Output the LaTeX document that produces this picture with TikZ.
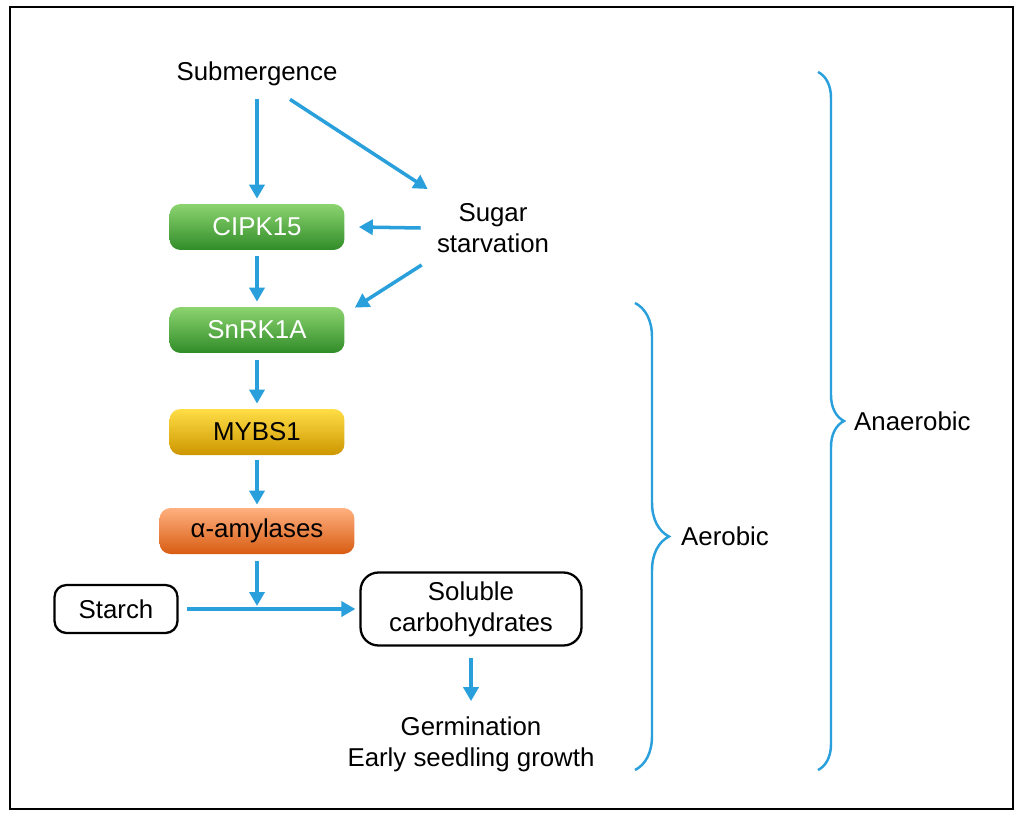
\documentclass[tikz,border=0pt]{standalone}
\usepackage{fontspec}
\setmainfont{Liberation Sans}
\usetikzlibrary{arrows.meta,calc,decorations.pathreplacing}
\definecolor{arrblue}{RGB}{41,160,220}
\definecolor{gtop}{RGB}{140,212,112}
\definecolor{gmid}{RGB}{77,180,60}
\definecolor{gbot}{RGB}{48,140,40}
\definecolor{ytop}{RGB}{255,222,70}
\definecolor{ymid}{RGB}{255,200,0}
\definecolor{ybot}{RGB}{205,150,0}
\definecolor{otop}{RGB}{255,176,128}
\definecolor{omid}{RGB}{255,122,46}
\definecolor{obot}{RGB}{216,92,18}
\begin{document}
\begin{tikzpicture}[x=0.02cm, y=-0.02cm,
    every node/.style={font=\fontsize{14.7}{17.6}\selectfont, inner sep=0pt},
    txt/.style={align=center},
    arr/.style={draw=arrblue, line width=2pt, -{Triangle[length=0.28cm, width=0.3cm]}},
    brc/.style={draw=arrblue, line width=1.4pt, decorate},
    box/.style={rounded corners=0.22cm, minimum height=0.92cm},
    gbox/.style={box, minimum width=3.5cm, text=white, top color=gtop, middle color=gmid, bottom color=gbot},
    ybox/.style={box, minimum width=3.5cm, top color=ytop, middle color=ymid, bottom color=ybot},
    obox/.style={box, minimum width=3.9cm, top color=otop, middle color=omid, bottom color=obot},
    wbox/.style={draw, line width=1.3pt, align=center}]
  \useasboundingbox (0,0) rectangle (1024,821);
  \draw[line width=1.6pt] (10,7) rectangle (1013,809);
  \node[txt] (sub) at (257,74) {Submergence};
  \node[txt] (sugar) at (493,228) {Sugar\\starvation};
  \node[gbox] (cipk) at (257,227) {CIPK15};
  \node[gbox] (snrk) at (257,330) {SnRK1A};
  \node[ybox] (mybs) at (257,432) {MYBS1};
  \node[obox] (amy) at (257,531) {α-amylases};
  \node[wbox, rounded corners=0.24cm, minimum width=2.46cm, minimum height=0.96cm] (starch) at (116,609) {Starch};
  \node[wbox, rounded corners=0.36cm, minimum width=4.42cm, minimum height=1.46cm] (sol) at (471,609) {Soluble\\carbohydrates};
  \node[txt] (germ) at (471,744) {Germination\\Early seedling growth};
  \coordinate (join) at (257,606);
  \draw[arr] ($(sub.south)+(0,13)$) -- ($(cipk.north)+(0,-5)$);
  \draw[arr] ($(sub.south)+(33,13)$) -- ($(sugar.north west)+(-9,-14)$);
  \draw[arr] ($(sugar.west)+(-16,0)$) -- ($(cipk.east)+(14,0)$);
  \draw[arr] ($(sugar.south west)+(-15,12)$) -- ($(snrk.north east)+(10,1)$);
  \draw[arr] ($(cipk.south)+(0,6)$) -- ($(snrk.north)+(0,-5)$);
  \draw[arr] ($(snrk.south)+(0,7)$) -- ($(mybs.north)+(0,-5)$);
  \draw[arr] ($(mybs.south)+(0,5)$) -- ($(amy.north)+(0,-3)$);
  \draw[arr] ($(amy.south)+(0,7)$) -- (join);
  \draw[arr] ($(starch.east)+(8,0)$) -- ($(sol.west)+(-4,0)$);
  \draw[arr] ($(sol.south)+(0,11)$) -- ($(germ.north)+(0,-15)$);
  \draw[brc, decoration={brace, amplitude=0.68cm}] (635,303) -- (635,770)
    node[midway, right=0.9cm] (aer) {Aerobic};
  \draw[brc, decoration={brace, amplitude=0.52cm}] (818,72) -- (818,770)
    node[midway, right=0.7cm] (anaer) {Anaerobic};
\end{tikzpicture}
\end{document}
